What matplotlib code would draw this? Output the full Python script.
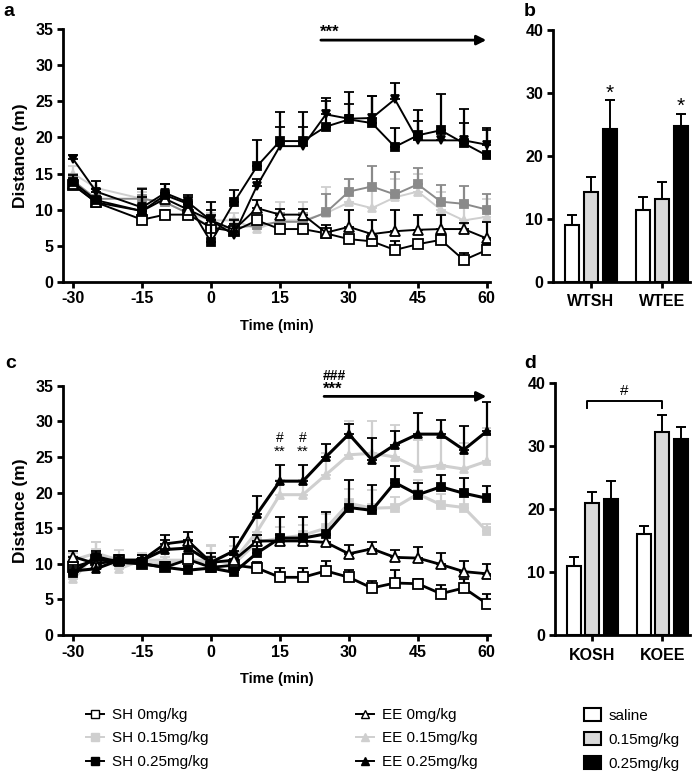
import matplotlib
matplotlib.use("Agg")
import matplotlib.pyplot as plt
import numpy as np
from matplotlib.lines import Line2D
from matplotlib.patches import Patch

plt.rcParams['font.family'] = ['Liberation Sans', 'DejaVu Sans']
plt.rcParams['axes.unicode_minus'] = False

# ---------------- data ----------------
time_a = [-30, -25, -15, -10, -5, 0, 5, 10, 15, 20, 25, 30, 35, 40, 45, 50, 55, 60]
time_c = [-30, -25, -20, -15, -10, -5, 0, 5, 10, 15, 20, 25, 30, 35, 40, 45, 50, 55, 60]

sh0_a = [13.4, 11.0, 8.6, 9.3, 9.3, 7.5, 7.0, 8.5, 7.3, 7.3, 6.7, 5.9, 5.6, 4.4, 5.2, 5.8, 3.0, 4.4]
sh0_a_err = [0.8, 0.6, 0.6, 0.6, 0.6, 0.6, 0.6, 0.6, 0.5, 0.5, 0.6, 0.6, 0.6, 1.2, 0.6, 0.6, 1.0, 0.8]
sh015_a = [14.0, 11.5, 11.5, 11.0, 9.5, 7.5, 7.5, 7.8, 8.3, 8.3, 9.6, 12.5, 13.2, 12.1, 13.5, 11.1, 10.8, 10.0]
sh015_a_err = [1.0, 1.0, 1.5, 1.0, 1.0, 1.2, 1.2, 1.0, 1.2, 1.2, 2.5, 1.7, 2.8, 3.1, 2.2, 2.3, 2.5, 2.2]
sh025_a = [13.8, 11.3, 9.8, 12.0, 10.8, 5.5, 11.0, 16.0, 19.5, 19.5, 21.5, 22.5, 22.0, 18.7, 20.3, 21.0, 19.2, 17.5]
sh025_a_err = [1.0, 1.5, 3.0, 1.5, 1.0, 4.5, 1.7, 3.6, 4.0, 4.0, 4.0, 3.8, 3.8, 2.6, 3.5, 5.0, 4.8, 3.8]
ee0_a = [13.5, 11.0, 9.8, 11.5, 10.0, 8.5, 7.2, 10.2, 9.3, 9.3, 6.8, 7.6, 6.6, 7.0, 7.2, 7.3, 7.3, 6.0]
ee0_a_err = [0.8, 0.8, 0.8, 0.8, 0.8, 0.8, 0.8, 1.1, 0.8, 0.8, 1.0, 2.4, 1.9, 3.0, 2.0, 2.0, 0.8, 2.3]
ee015_a = [15.0, 13.0, 11.5, 11.0, 9.5, 8.5, 8.5, 7.3, 8.5, 8.5, 9.5, 11.0, 10.2, 11.7, 12.5, 10.0, 8.5, 9.0]
ee015_a_err = [1.0, 1.0, 1.0, 1.0, 1.0, 1.0, 1.0, 1.0, 2.5, 2.5, 3.7, 3.3, 3.0, 2.6, 2.5, 2.5, 2.5, 2.5]
ee025_a = [17.0, 12.5, 10.3, 12.3, 11.0, 8.5, 6.5, 13.3, 18.8, 18.8, 23.2, 22.6, 22.7, 25.3, 19.6, 19.6, 19.6, 19.0]
ee025_a_err = [0.5, 1.5, 1.5, 1.3, 1.0, 2.5, 2.0, 1.0, 2.7, 2.7, 1.9, 2.0, 3.0, 2.2, 2.7, 1.0, 2.4, 2.0]

sh0_c = [9.5, 10.5, 10.5, 10.0, 9.5, 10.6, 9.5, 9.8, 9.4, 8.1, 8.1, 9.0, 8.1, 6.6, 7.3, 7.2, 5.8, 6.6, 4.4]
sh0_c_err = [0.8, 0.8, 0.8, 0.8, 0.8, 0.8, 0.8, 0.8, 0.8, 1.3, 1.3, 1.4, 1.0, 1.0, 1.8, 0.6, 1.2, 1.3, 1.3]
sh015_c = [10.5, 11.5, 10.5, 10.0, 10.0, 10.5, 10.5, 10.0, 13.0, 13.6, 14.0, 15.0, 18.5, 17.8, 17.9, 19.8, 18.3, 17.9, 14.6]
sh015_c_err = [1.0, 1.5, 1.5, 1.0, 1.0, 1.5, 2.0, 1.5, 1.5, 1.5, 1.5, 2.0, 2.0, 2.5, 1.5, 2.0, 1.5, 1.5, 1.0]
sh025_c = [8.7, 11.0, 10.2, 10.0, 9.5, 9.1, 9.4, 8.8, 11.5, 13.6, 13.6, 14.2, 17.9, 17.5, 21.4, 19.7, 20.8, 19.9, 19.2]
sh025_c_err = [0.8, 0.8, 0.8, 0.8, 0.8, 0.6, 0.8, 0.8, 1.5, 2.9, 2.9, 3.1, 3.9, 3.5, 2.3, 1.7, 1.7, 2.1, 1.7]
ee0_c = [11.0, 10.0, 10.5, 10.5, 12.8, 13.2, 10.2, 10.5, 13.2, 13.2, 13.2, 13.0, 11.4, 12.1, 10.9, 10.8, 9.9, 8.9, 8.6]
ee0_c_err = [0.8, 0.8, 0.8, 0.8, 1.2, 1.2, 0.8, 0.8, 0.8, 0.8, 0.8, 1.0, 1.3, 1.0, 1.1, 1.5, 1.6, 1.5, 1.4]
ee015_c = [7.8, 11.5, 9.3, 10.5, 10.5, 10.5, 10.2, 10.5, 14.5, 19.7, 19.7, 22.5, 25.3, 25.5, 25.0, 23.4, 23.8, 23.3, 24.4]
ee015_c_err = [1.0, 1.5, 1.0, 1.0, 1.0, 1.0, 2.5, 2.0, 2.0, 2.0, 2.0, 3.0, 4.7, 4.5, 4.5, 4.0, 4.2, 3.7, 4.6]
ee025_c = [9.0, 9.3, 10.5, 10.5, 12.0, 12.2, 10.2, 11.8, 17.0, 21.6, 21.6, 25.0, 28.2, 24.6, 26.7, 28.2, 28.2, 26.0, 28.6]
ee025_c_err = [0.8, 0.8, 0.8, 0.8, 1.3, 1.2, 1.3, 1.9, 2.5, 2.2, 2.2, 1.8, 1.4, 3.0, 2.0, 2.9, 2.0, 3.3, 4.1]

bar_groups_b = ['WTSH', 'WTEE']
bar_groups_d = ['KOSH', 'KOEE']
dose_labels = ['saline', '0.15mg/kg', '0.25mg/kg']
bars_b = [[9.0, 11.4], [14.3, 13.2], [24.3, 24.7]]
bars_b_err = [[1.6, 2.0], [2.3, 2.6], [4.5, 2.0]]
bars_d = [[11.0, 16.0], [20.9, 32.3], [21.6, 31.1]]
bars_d_err = [[1.4, 1.3], [1.9, 2.6], [2.9, 1.9]]

line_labels = ['SH 0mg/kg', 'SH 0.15mg/kg', 'SH 0.25mg/kg', 'EE 0mg/kg', 'EE 0.15mg/kg', 'EE 0.25mg/kg']

# ---------------- figure ----------------
fig = plt.figure(figsize=(7.0, 7.72), dpi=100)
W, H = 700, 772

def pos(l, t, r, b):
    return [l / W, 1 - b / H, (r - l) / W, (b - t) / H]

ax_a = fig.add_axes(pos(63, 29.3, 490, 281.7))
ax_b = fig.add_axes(pos(553, 30, 690, 281.7))
ax_c = fig.add_axes(pos(63, 385.7, 490, 635))
ax_d = fig.add_axes(pos(555, 383.3, 690, 635))

LIGHT = '#cfcfcf'
MID = '#8a8a8a'

def series(ax, x, y, e, color, marker, mfc, lw, ms, z):
    ax.errorbar(x, y, yerr=[np.zeros(len(e)), e], color=color, lw=lw,
                marker=marker, mfc=mfc, mec=color if mfc != 'white' else 'black',
                ms=ms, mew=1.3, capsize=3.8, capthick=2, elinewidth=1.6, zorder=z,
                ecolor=color)

def style_line_ax(ax):
    ax.set_xlim(-32.2, 60.7)
    ax.set_ylim(0, 35)
    ax.set_xticks([-30, -15, 0, 15, 30, 45, 60])
    ax.set_yticks([0, 5, 10, 15, 20, 25, 30, 35])
    for s in ['top', 'right']:
        ax.spines[s].set_visible(False)
    for s in ['left', 'bottom']:
        ax.spines[s].set_linewidth(2)
    ax.tick_params(width=2, length=4, direction='out', labelsize=11.5, pad=3)
    for lab in ax.get_xticklabels() + ax.get_yticklabels():
        lab.set_fontweight('bold')
    ax.set_ylabel('Distance (m)', fontsize=12.5, fontweight='bold', labelpad=5)
    ax.set_xlabel('Time (min)', fontsize=10.5, fontweight='bold', labelpad=9)

# panel a
series(ax_a, time_a, ee015_a, ee015_a_err, LIGHT, '^', LIGHT, 1.4, 6, 2)
series(ax_a, time_a, sh015_a, sh015_a_err, MID, 's', MID, 1.4, 6, 3)
series(ax_a, time_a, sh0_a, sh0_a_err, 'black', 's', 'white', 1.4, 6.5, 4)
series(ax_a, time_a, ee0_a, ee0_a_err, 'black', '^', 'white', 1.4, 6.5, 4)
series(ax_a, time_a, sh025_a, sh025_a_err, 'black', 's', 'black', 1.4, 6, 5)
series(ax_a, time_a, ee025_a, ee025_a_err, 'black', 'v', 'black', 1.4, 6, 5)
style_line_ax(ax_a)
ax_a.annotate('', xy=(60.5, 33.5), xytext=(23.3, 33.5),
              arrowprops=dict(arrowstyle='-|>', color='black', lw=2, mutation_scale=14),
              annotation_clip=False)
ax_a.text(23.8, 33.5, '***', fontsize=12, fontweight='bold', ha='left', va='bottom')

# panel c
series(ax_c, time_c, sh015_c, sh015_c_err, LIGHT, 's', LIGHT, 2.2, 6, 2)
series(ax_c, time_c, ee015_c, ee015_c_err, LIGHT, '^', LIGHT, 2.2, 6, 2)
series(ax_c, time_c, sh0_c, sh0_c_err, 'black', 's', 'white', 2.0, 6.5, 4)
series(ax_c, time_c, ee0_c, ee0_c_err, 'black', '^', 'white', 2.0, 6.5, 4)
series(ax_c, time_c, sh025_c, sh025_c_err, 'black', 's', 'black', 2.2, 6, 5)
series(ax_c, time_c, ee025_c, ee025_c_err, 'black', '^', 'black', 2.2, 6, 5)
style_line_ax(ax_c)
ax_c.annotate('', xy=(60.5, 33.5), xytext=(24.0, 33.5),
              arrowprops=dict(arrowstyle='-|>', color='black', lw=2, mutation_scale=14),
              annotation_clip=False)
ax_c.text(24.3, 33.5, '***', fontsize=12, fontweight='bold', ha='left', va='bottom')
ax_c.text(24.3, 35.4, '###', fontsize=10, fontweight='bold', ha='left', va='bottom', clip_on=False)
for t in [15, 20]:
    ax_c.text(t, 24.8, '**', fontsize=11, ha='center', va='bottom')
    ax_c.text(t, 26.7, '#', fontsize=10, ha='center', va='bottom')

# bar panels
bar_colors = ['white', '#d9d9d9', 'black']
offsets = [-0.268, 0.0, 0.268]

def bars(ax, vals, errs, groups):
    x = np.arange(len(groups))
    for i in range(3):
        ax.bar(x + offsets[i], vals[i], width=0.2, color=bar_colors[i],
               edgecolor='black', linewidth=1.5, zorder=3,
               yerr=[np.zeros(len(errs[i])), errs[i]], capsize=3.8,
               error_kw=dict(elinewidth=1.4, capthick=1.4, ecolor='black'))
    ax.set_xlim(-0.535, 1.394)
    ax.set_ylim(0, 40)
    ax.set_yticks([0, 10, 20, 30, 40])
    ax.set_xticks(x)
    ax.set_xticklabels(groups)
    for s in ['top', 'right']:
        ax.spines[s].set_visible(False)
    for s in ['left', 'bottom']:
        ax.spines[s].set_linewidth(2)
    ax.tick_params(width=2, length=4, direction='out', labelsize=11.5, pad=3)
    ax.tick_params(axis='x', labelsize=11.5, pad=5)
    for lab in ax.get_xticklabels() + ax.get_yticklabels():
        lab.set_fontweight('bold')
    return x

xb = bars(ax_b, bars_b, bars_b_err, bar_groups_b)
ax_b.text(xb[0] + offsets[2], 30.0, '*', fontsize=15, ha='center', va='center')
ax_b.text(xb[1] + offsets[2], 27.9, '*', fontsize=15, ha='center', va='center')

xd = bars(ax_d, bars_d, bars_d_err, bar_groups_d)
ax_d.plot([xd[0] - 0.08, xd[0] - 0.08, xd[1], xd[1]], [36.0, 37.2, 37.2, 36.0],
          color='black', lw=1.4, clip_on=False)
ax_d.text((xd[0] + xd[1]) / 2 - 0.04, 37.6, '#', fontsize=11, ha='center', va='bottom')

# panel letters
for lab, (x, y) in zip('abcd', [(3, 12), (524, 12), (5, 364), (524, 364)]):
    fig.text(x / W, 1 - y / H, lab, fontsize=14, fontweight='bold', ha='left', va='center')

# legends
h_sh = [Line2D([], [], color='black', marker='s', mfc='white', mec='black', ms=6, lw=1.4),
        Line2D([], [], color=LIGHT, marker='s', mfc=LIGHT, mec=LIGHT, ms=6, lw=1.4),
        Line2D([], [], color='black', marker='s', mfc='black', mec='black', ms=6, lw=1.4)]
h_ee = [Line2D([], [], color='black', marker='^', mfc='white', mec='black', ms=6, lw=1.4),
        Line2D([], [], color=LIGHT, marker='^', mfc=LIGHT, mec=LIGHT, ms=6, lw=1.4),
        Line2D([], [], color='black', marker='^', mfc='black', mec='black', ms=6, lw=1.4)]
h_bar = [Patch(facecolor=c, edgecolor='black', linewidth=1.5) for c in bar_colors]

leg_font = dict(family=['Liberation Sans Narrow', 'Liberation Sans'], size=11)
common = dict(frameon=False, loc='upper left', borderpad=0, borderaxespad=0,
              handlelength=1.2, handletextpad=0.5, labelspacing=0.62, prop=leg_font)
fig.legend(h_sh, line_labels[:3], bbox_to_anchor=(86 / W, 1 - 708 / H), **common)
fig.legend(h_ee, line_labels[3:], bbox_to_anchor=(356 / W, 1 - 708 / H), **common)
fig.legend(h_bar, dose_labels, bbox_to_anchor=(584 / W, 1 - 708 / H),
           frameon=False, loc='upper left', borderpad=0, borderaxespad=0,
           handlelength=1.1, handleheight=0.9, handletextpad=0.5, labelspacing=0.62, prop=leg_font)

fig.savefig('out.png', dpi=100)
